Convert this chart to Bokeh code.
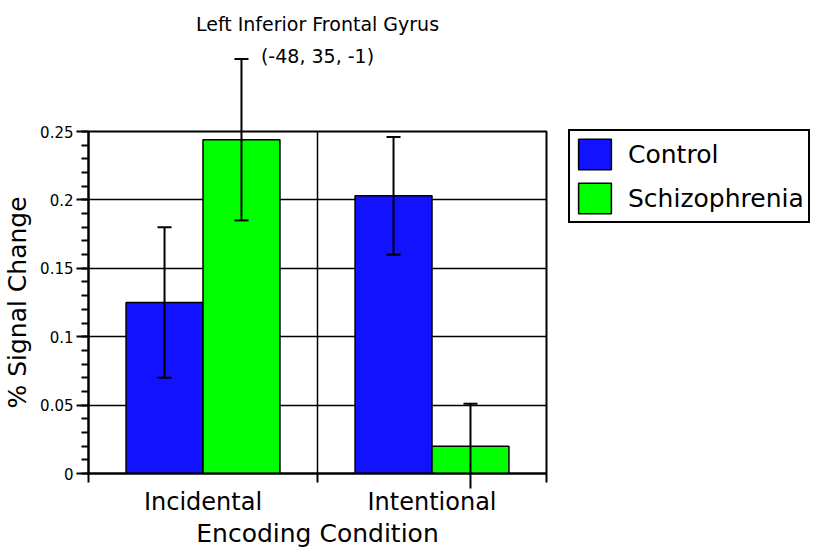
from bokeh.plotting import figure
from bokeh.models import (ColumnDataSource, Range1d, FixedTicker, LinearAxis, Grid,
                          Legend, LegendItem, Title)
from bokeh.transform import dodge
from bokeh.embed import file_html
from bokeh.resources import INLINE

# ---- data ----
categories = ["Incidental", "Intentional"]
groups = ["Control", "Schizophrenia"]
control = [0.125, 0.203]
schizophrenia = [0.244, 0.020]
control_err = [0.055, 0.043]
schizophrenia_err = [0.059, 0.031]
y_ticks = [0, 0.05, 0.1, 0.15, 0.2, 0.25]
y_tick_labels = ["0", "0.05", "0.1", "0.15", "0.2", "0.25"]
y_minor_step = 0.01
title_lines = ["Left Inferior Frontal Gyrus", "(-48, 35, -1)"]
x_title = "Encoding Condition"
y_title = "% Signal Change"

# ---- style ----
FONT = "DejaVu Sans"
BLUE = "#1212FF"
GREEN = "#00FF00"
BAR_W = 0.336
CAP = 0.0306   # half width of an error-bar cap (x units)

pos = [i + 0.5 for i in range(len(categories))]
bounds = list(range(len(categories) + 1))

src = ColumnDataSource(dict(
    pos=pos,
    control=control,
    schizo=schizophrenia,
    c_up=[v + e for v, e in zip(control, control_err)],
    c_lo=[v - e for v, e in zip(control, control_err)],
    s_up=[v + e for v, e in zip(schizophrenia, schizophrenia_err)],
    s_lo=[v - e for v, e in zip(schizophrenia, schizophrenia_err)],
))

p = figure(frame_width=458, frame_height=342,
           x_range=Range1d(0, len(categories)), y_range=Range1d(y_ticks[0], y_ticks[-1]),
           x_axis_type=None, y_axis_type=None,
           output_backend="svg", toolbar_location=None,
           min_border_left=84, min_border_right=264, min_border_top=131, min_border_bottom=60,
           title=title_lines[0])

p.background_fill_color = "white"
p.border_fill_color = "white"
p.outline_line_color = "black"
p.outline_line_width = 2

# blank spacer next to the frame, so that the two title lines sit at the top of the page
spacer = Title(text=" ", text_font=FONT, text_font_size="19px", standoff=39)
p.add_layout(spacer, "above")

t2 = Title(text=title_lines[1], text_font=FONT, text_font_size="19px", text_font_style="normal",
           text_color="black", align="center", vertical_align="top", standoff=0)
p.add_layout(t2, "above")

p.title.text_font = FONT
p.title.text_font_size = "19px"
p.title.text_font_style = "normal"
p.title.text_color = "black"
p.title.align = "center"
p.title.vertical_align = "bottom"
p.title.standoff = 20

# y axis
n_minor = int(round((y_ticks[-1] - y_ticks[0]) / y_minor_step))
yticker = FixedTicker(ticks=y_ticks,
                      minor_ticks=[round(y_ticks[0] + k * y_minor_step, 4) for k in range(n_minor + 1)])
yaxis = LinearAxis(ticker=yticker,
                   major_label_overrides=dict(zip(y_ticks, y_tick_labels)),
                   axis_label=y_title)
yaxis.axis_line_width = 2
yaxis.major_tick_line_width = 2
yaxis.minor_tick_line_width = 2
yaxis.major_tick_in = 0
yaxis.major_tick_out = 12
yaxis.minor_tick_in = 0
yaxis.minor_tick_out = 7
yaxis.major_label_standoff = 3
yaxis.major_label_text_font = FONT
yaxis.major_label_text_font_size = "15px"
yaxis.major_label_text_color = "black"
yaxis.axis_label_text_font = FONT
yaxis.axis_label_text_font_size = "25px"
yaxis.axis_label_text_font_style = "normal"
yaxis.axis_label_text_color = "black"
yaxis.axis_label_standoff = 5
p.add_layout(yaxis, "left")

# x axis
xticker = FixedTicker(ticks=pos, minor_ticks=bounds)
xaxis = LinearAxis(ticker=xticker,
                   major_label_overrides=dict(zip(pos, categories)),
                   axis_label=x_title)
xaxis.axis_line_width = 2
xaxis.major_tick_line_color = None
xaxis.major_tick_in = 0
xaxis.major_tick_out = 0
xaxis.minor_tick_in = 0
xaxis.minor_tick_out = 9
xaxis.minor_tick_line_width = 2
xaxis.minor_tick_line_color = "black"
xaxis.major_label_standoff = 5
xaxis.major_label_text_font = FONT
xaxis.major_label_text_font_size = "24px"
xaxis.major_label_text_color = "black"
xaxis.axis_label_text_font = FONT
xaxis.axis_label_text_font_size = "25px"
xaxis.axis_label_text_font_style = "normal"
xaxis.axis_label_text_color = "black"
xaxis.axis_label_standoff = 0
p.add_layout(xaxis, "below")

# grids
p.add_layout(Grid(dimension=1, ticker=yticker, grid_line_color="black", grid_line_width=1.5))
p.add_layout(Grid(dimension=0, ticker=FixedTicker(ticks=bounds), grid_line_color="black",
                  grid_line_width=1.5))

# bars
r1 = p.vbar(x=dodge("pos", -BAR_W / 2), top="control", width=BAR_W, source=src,
            fill_color=BLUE, line_color="black", line_width=1.5)
r2 = p.vbar(x=dodge("pos", BAR_W / 2), top="schizo", width=BAR_W, source=src,
            fill_color=GREEN, line_color="black", line_width=1.5)

# error bars (overlay level so they may run past the frame)
for off, up, lo in [(-BAR_W / 2, "c_up", "c_lo"), (BAR_W / 2, "s_up", "s_lo")]:
    p.segment(x0=dodge("pos", off), x1=dodge("pos", off), y0=lo, y1=up, source=src,
              line_color="black", line_width=2, level="overlay")
    for end in (up, lo):
        keep = [i for i, v in enumerate(src.data[end]) if v >= y_ticks[0]]
        cap_src = ColumnDataSource(dict(pos=[pos[i] for i in keep],
                                        y=[src.data[end][i] for i in keep]))
        p.segment(x0=dodge("pos", off - CAP), x1=dodge("pos", off + CAP), y0="y", y1="y",
                  source=cap_src, line_color="black", line_width=2, level="overlay")

legend = Legend(items=[LegendItem(label=groups[0], renderers=[r1]),
                       LegendItem(label=groups[1], renderers=[r2])],
                location=(22, 250))
legend.border_line_color = "black"
legend.border_line_alpha = 1
legend.border_line_width = 2
legend.background_fill_color = "white"
legend.background_fill_alpha = 1
legend.glyph_width = 41
legend.glyph_height = 38
legend.label_height = 38
legend.padding = 4
legend.spacing = 6
legend.margin = 0
legend.label_standoff = 13
legend.label_text_font = FONT
legend.label_text_font_size = "25px"
legend.label_text_color = "black"
p.add_layout(legend, "right")

open("out.html", "w").write(file_html(p, INLINE))
